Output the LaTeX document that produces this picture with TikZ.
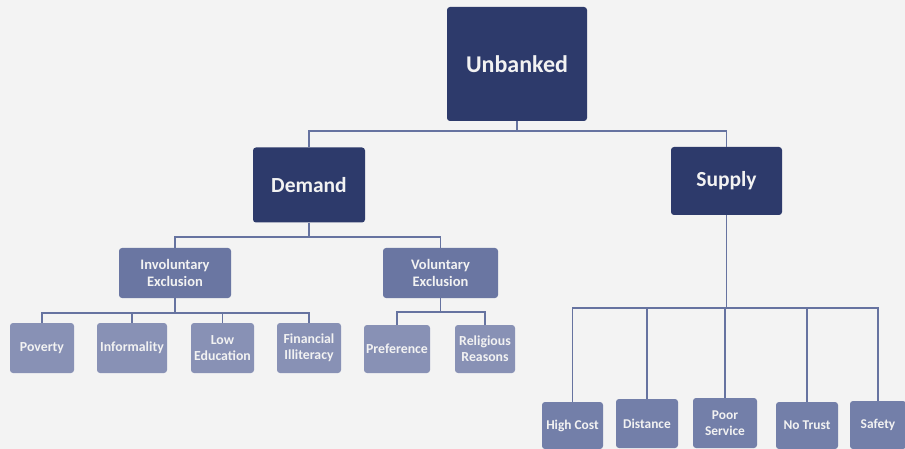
\documentclass[tikz,border=0pt]{standalone}
\usepackage{fontspec}
\setmainfont{Carlito}
\definecolor{bgc}{HTML}{F3F3F3}
\definecolor{darkc}{HTML}{2D3A6B}
\definecolor{midc}{HTML}{6A76A2}
\definecolor{leafc}{HTML}{8891B5}
\definecolor{botc}{HTML}{737FA9}
\definecolor{linec}{HTML}{6673A0}
\definecolor{txtc}{HTML}{F2F2F2}
\tikzset{
  box/.style={fill=#1, draw=none, rounded corners=3pt, text=txtc, align=center,
    inner sep=0pt, font=\bfseries, anchor=center},
  topbox/.style={box=darkc, font=\bfseries\fontsize{24}{27}\selectfont},
  secbox/.style={box=darkc, font=\bfseries\fontsize{21.5}{24}\selectfont},
  midbox/.style={box=midc, font=\bfseries\fontsize{14.5}{17}\selectfont},
  leafbox/.style={box=leafc, font=\bfseries\fontsize{13.8}{16}\selectfont},
  botbox/.style={box=botc, font=\bfseries\fontsize{13.4}{16}\selectfont},
  conn/.style={draw=linec, line width=1.8pt, line join=miter}
}
\begin{document}
\begin{tikzpicture}[x=1pt,y=-1pt]
\fill[bgc] (0,0) rectangle (905,449);
\useasboundingbox (0,0) rectangle (905,449);
% level 0
\node[topbox, minimum width=140pt, minimum height=114pt] (unb) at (517,64) {Unbanked};
% level 1
\node[secbox, minimum width=112pt, minimum height=75pt] (dem) at (309,185) {Demand};
\node[secbox, minimum width=111pt, minimum height=68pt] (sup) at (726.5,181) {Supply};
% level 2
\node[midbox, minimum width=112pt, minimum height=50pt] (inv) at (175,273) {Involuntary\\Exclusion};
\node[midbox, minimum width=115pt, minimum height=50pt] (vol) at (440.5,273) {Voluntary\\Exclusion};
% demand leaves
\node[leafbox, minimum width=64pt, minimum height=50pt] (pov) at (42,348) {Poverty};
\node[leafbox, minimum width=70pt, minimum height=50pt] (inf) at (132,348) {Informality};
\node[leafbox, minimum width=63pt, minimum height=50pt] (low) at (222.5,348) {Low\\Education};
\node[leafbox, minimum width=64pt, minimum height=50pt] (fin) at (309,348) {Financial\\Illiteracy};
\node[leafbox, minimum width=66pt, minimum height=48pt] (pre) at (397,349) {Preference};
\node[leafbox, minimum width=60pt, minimum height=48pt] (rel) at (485,349) {Religious\\Reasons};
% supply leaves
\node[botbox, minimum width=61pt, minimum height=47pt] (hc) at (572.5,425.5) {High Cost};
\node[botbox, minimum width=62pt, minimum height=49pt] (dis) at (647,423.5) {Distance};
\node[botbox, minimum width=64pt, minimum height=50pt] (ps) at (725,423) {Poor\\Service};
\node[botbox, minimum width=62pt, minimum height=47pt] (nt) at (807,425.5) {No Trust};
\node[botbox, minimum width=56pt, minimum height=48pt] (saf) at (878,425) {Safety};
% bar coordinates
\coordinate (b0) at (0,131);
\coordinate (b1) at (0,237);
\coordinate (b2) at (0,313);
\coordinate (b3) at (0,312);
\coordinate (b4) at (0,308);
% connectors
\draw[conn] (unb.south) -- (unb.south |- b0);
\draw[conn] (dem.north) -- (dem.north |- b0) -- (sup.north |- b0) -- (sup.north);
\draw[conn] (dem.south) -- (dem.south |- b1);
\draw[conn] (inv.north) -- (inv.north |- b1) -- (vol.north |- b1) -- (vol.north);
\draw[conn] (inv.south) -- (inv.south |- b2);
\draw[conn] (pov.north) -- (pov.north |- b2) -- (fin.north |- b2) -- (fin.north);
\draw[conn] (inf.north) -- (inf.north |- b2);
\draw[conn] (low.north) -- (low.north |- b2);
\draw[conn] (vol.south) -- (vol.south |- b3);
\draw[conn] (pre.north) -- (pre.north |- b3) -- (rel.north |- b3) -- (rel.north);
\draw[conn] (sup.south) -- (sup.south |- b4);
\draw[conn] (hc.north) -- (hc.north |- b4) -- (saf.north |- b4) -- (saf.north);
\draw[conn] (dis.north) -- (dis.north |- b4);
\draw[conn] (ps.north) -- (ps.north |- b4);
\draw[conn] (nt.north) -- (nt.north |- b4);
\end{tikzpicture}
\end{document}
